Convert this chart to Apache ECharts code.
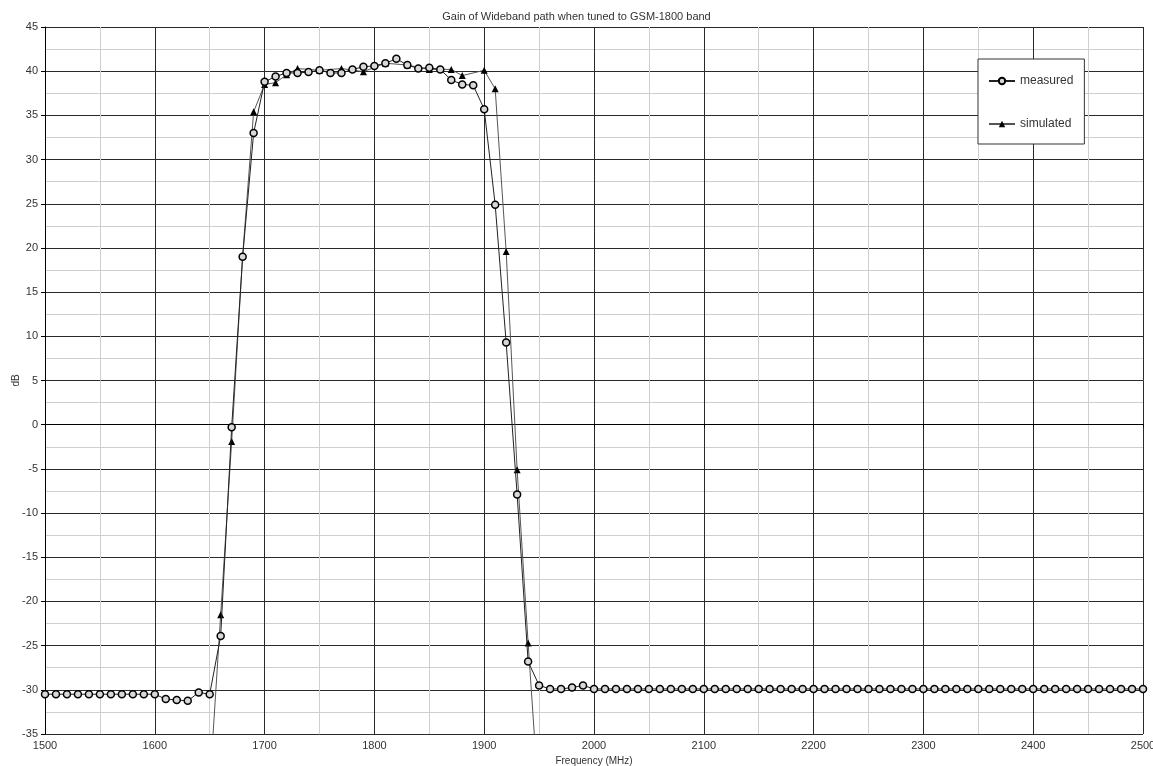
<!DOCTYPE html>
<html>
<head>
<meta charset="utf-8">
<script src="https://cdn.jsdelivr.net/npm/echarts@6/dist/echarts.min.js"></script>
<style>
  html, body { margin: 0; padding: 0; background: #fff; }
  #chart { width: 1153px; height: 766px; }
</style>
</head>
<body>
<div id="chart"></div>
<script>
// Gain of wideband path, GSM-1800 band
const measuredFreq = [
  1500, 1510, 1520, 1530, 1540, 1550, 1560, 1570, 1580, 1590,
  1600, 1610, 1620, 1630, 1640, 1650, 1660, 1670, 1680, 1690,
  1700, 1710, 1720, 1730, 1740, 1750, 1760, 1770, 1780, 1790,
  1800, 1810, 1820, 1830, 1840, 1850, 1860, 1870, 1880, 1890,
  1900, 1910, 1920, 1930, 1940, 1950, 1960, 1970, 1980, 1990,
  2000, 2010, 2020, 2030, 2040, 2050, 2060, 2070, 2080, 2090,
  2100, 2110, 2120, 2130, 2140, 2150, 2160, 2170, 2180, 2190,
  2200, 2210, 2220, 2230, 2240, 2250, 2260, 2270, 2280, 2290,
  2300, 2310, 2320, 2330, 2340, 2350, 2360, 2370, 2380, 2390,
  2400, 2410, 2420, 2430, 2440, 2450, 2460, 2470, 2480, 2490,
  2500
];
const measuredGain = [
  -30.5, -30.5, -30.5, -30.5, -30.5, -30.5, -30.5, -30.5, -30.5, -30.5,
  -30.5, -31.05, -31.15, -31.25, -30.3, -30.5, -23.9, -0.3, 19.0, 33.0,
  38.8, 39.4, 39.8, 39.8, 39.9, 40.1, 39.8, 39.8, 40.2, 40.5,
  40.6, 40.9, 41.4, 40.7, 40.3, 40.4, 40.2, 39.0, 38.5, 38.4,
  35.7, 24.9, 9.3, -7.9, -26.8, -29.5, -29.9, -29.9, -29.75, -29.5,
  -29.9, -29.9, -29.9, -29.9, -29.9, -29.9, -29.9, -29.9, -29.9, -29.9,
  -29.9, -29.9, -29.9, -29.9, -29.9, -29.9, -29.9, -29.9, -29.9, -29.9,
  -29.9, -29.9, -29.9, -29.9, -29.9, -29.9, -29.9, -29.9, -29.9, -29.9,
  -29.9, -29.9, -29.9, -29.9, -29.9, -29.9, -29.9, -29.9, -29.9, -29.9,
  -29.9, -29.9, -29.9, -29.9, -29.9, -29.9, -29.9, -29.9, -29.9, -29.9,
  -29.9
];
const simulatedFreq = [
  1650, 1660, 1670, 1680, 1690, 1700, 1710, 1720, 1730, 1750, 1770, 1790,
  1810, 1830, 1850, 1870, 1880, 1900, 1910, 1920, 1930, 1940, 1950
];
const simulatedGain = [
  -41, -21.5, -1.9, 19.1, 35.4, 38.5, 38.7, 39.6, 40.3, 40.1, 40.3, 39.95,
  40.9, 40.7, 40.2, 40.2, 39.5, 40.1, 38.0, 19.6, -5.1, -24.7, -43
];

const zip = (xs, ys) => xs.map((x, i) => [x, ys[i]]);
const FONT = '"Liberation Sans", Arial, sans-serif';
const TXT = '#333';

const chart = echarts.init(document.getElementById('chart'));
chart.setOption({
  animation: false,
  backgroundColor: '#fff',
  title: {
    text: 'Gain of Wideband path when tuned to GSM-1800 band',
    left: 'center',
    top: 6,
    textStyle: { fontFamily: FONT, fontSize: 11, fontWeight: 'normal', color: TXT }
  },
  grid: { left: 45, right: 10, top: 27, bottom: 32, containLabel: false, outerBoundsMode: 'none' },
  legend: {
    orient: 'vertical',
    left: 978,
    top: 59,
    padding: [16, 11, 14, 10],
    itemGap: 31,
    itemWidth: 26,
    itemHeight: 8,
    backgroundColor: '#fff',
    borderColor: '#333',
    borderWidth: 1,
    borderRadius: 0,
    textStyle: { fontFamily: FONT, fontSize: 12, color: TXT },
    data: ['measured', 'simulated']
  },
  xAxis: {
    type: 'value',
    min: 1500,
    max: 2500,
    interval: 100,
    name: 'Frequency (MHz)',
    nameLocation: 'middle',
    nameGap: 20,
    nameTextStyle: { fontFamily: FONT, fontSize: 10, color: TXT },
    axisLine: { lineStyle: { color: '#000', width: 1 } },
    axisTick: { show: true, length: 3, lineStyle: { color: '#000' } },
    axisLabel: { fontFamily: FONT, fontSize: 11, color: TXT, margin: 6, formatter: v => String(v) },
    splitLine: { lineStyle: { color: '#2a2a2a', width: 1 } },
    minorTick: { show: false, splitNumber: 2 },
    minorSplitLine: { show: true, lineStyle: { color: '#cfcfcf', width: 1 } }
  },
  yAxis: {
    type: 'value',
    min: -35,
    max: 45,
    interval: 5,
    name: 'dB',
    nameLocation: 'middle',
    nameGap: 24,
    nameMoveOverlap: false,
    nameTextStyle: { fontFamily: FONT, fontSize: 10, color: TXT },
    axisLine: { show: true, lineStyle: { color: '#000', width: 1 } },
    axisTick: { show: true, length: 4, lineStyle: { color: '#000' } },
    axisLabel: { fontFamily: FONT, fontSize: 11, color: TXT, margin: 7 },
    splitLine: { lineStyle: { color: '#2a2a2a', width: 1 } },
    minorTick: { show: false, splitNumber: 2 },
    minorSplitLine: { show: true, lineStyle: { color: '#cfcfcf', width: 1 } }
  },
  series: [
    {
      name: 'simulated',
      type: 'line',
      data: zip(simulatedFreq, simulatedGain),
      symbol: 'triangle',
      symbolSize: 7,
      showAllSymbol: true,
      clip: true,
      lineStyle: { color: '#555', width: 1 },
      itemStyle: { color: '#000', borderWidth: 0 },
      z: 3
    },
    {
      name: 'measured',
      type: 'line',
      data: zip(measuredFreq, measuredGain),
      symbol: 'circle',
      symbolSize: 7,
      showAllSymbol: true,
      clip: true,
      lineStyle: { color: '#222', width: 1 },
      itemStyle: { color: '#d8d8d8', borderColor: '#000', borderWidth: 1.5 },
      z: 4
    }
  ]
});
</script>
</body>
</html>
